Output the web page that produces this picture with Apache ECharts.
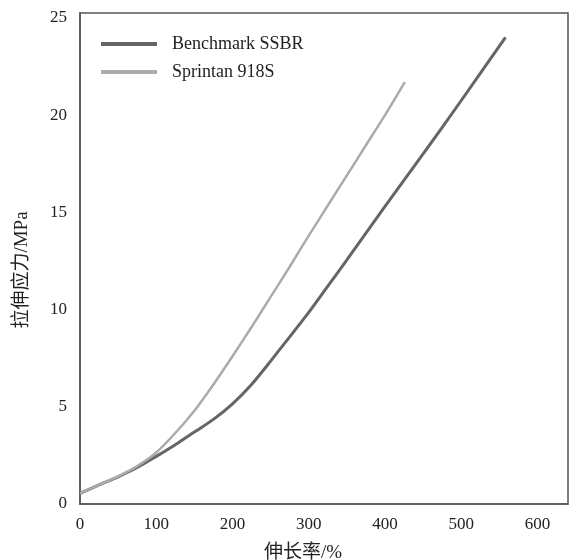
<!DOCTYPE html>
<html>
<head>
<meta charset="utf-8">
<script src="https://cdn.jsdelivr.net/npm/echarts@6/dist/echarts.min.js"></script>
<style>html,body{margin:0;padding:0;background:#fff}#c{width:571px;height:560px}</style>
</head>
<body>
<div id="c"></div>
<script>
const seriesNames = ['Benchmark SSBR', 'Sprintan 918S'];
const benchmarkStrain = [0, 25, 50, 75, 100, 125, 150, 175, 200, 225, 250, 300, 325, 350, 400, 450, 500, 558];
const benchmarkStress = [0.55, 0.98, 1.4, 1.88, 2.45, 3.05, 3.7, 4.35, 5.15, 6.15, 7.35, 9.85, 11.2, 12.55, 15.3, 18.0, 20.75, 24.0];
const sprintanStrain = [0, 25, 50, 75, 100, 125, 150, 175, 200, 225, 250, 275, 300, 325, 350, 375, 400, 426];
const sprintanStress = [0.55, 0.98, 1.42, 1.95, 2.65, 3.65, 4.8, 6.15, 7.6, 9.1, 10.65, 12.2, 13.8, 15.35, 16.9, 18.45, 20.0, 21.7];
const xTicks = [0, 100, 200, 300, 400, 500, 600];
const yTicks = [0, 5, 10, 15, 20, 25];
const xTitle = '伸长率/%';
const yTitle = '拉伸应力/MPa';

const font = '"Liberation Serif", "Noto Sans CJK SC", serif';
const chart = echarts.init(document.getElementById('c'));
const zip = (a, b) => a.map((v, i) => [v, b[i]]);
chart.setOption({
  animation: false,
  grid: { left: 80, right: 3, top: 13, bottom: 56, show: true, borderColor: '#555', borderWidth: 1.5, containLabel: false },
  legend: {
    left: 96, top: 30, orient: 'vertical', icon: 'rect', itemWidth: 56, itemHeight: 4, itemGap: 10,
    textStyle: { fontFamily: font, fontSize: 18, color: '#222', lineHeight: 14, padding: [0, 0, 0, 10] },
    data: seriesNames
  },
  xAxis: {
    type: 'value', min: 0, max: 640, interval: 100,
    axisLine: { show: true, lineStyle: { color: '#555', width: 1.5 } },
    axisTick: { show: false }, splitLine: { show: false },
    axisLabel: { fontFamily: font, fontSize: 17, color: '#222', margin: 12,
      formatter: v => xTicks.includes(v) ? String(v) : '' }
  },
  yAxis: {
    type: 'value', min: 0, max: 25.25, interval: 5,
    axisLine: { show: true, lineStyle: { color: '#555', width: 1.5 } },
    axisTick: { show: false }, splitLine: { show: false },
    axisLabel: { fontFamily: font, fontSize: 17, color: '#222', margin: 13,
      formatter: v => yTicks.includes(v) ? String(v) : '' }
  },
  graphic: [
    { type: 'text', x: 22, y: 270, rotation: Math.PI / 2, style: { text: yTitle, font: '19px ' + font, fill: '#222', textAlign: 'center', textVerticalAlign: 'middle' } },
    { type: 'text', x: 303, y: 553, style: { text: xTitle, font: '19px ' + font, fill: '#222', textAlign: 'center', textVerticalAlign: 'middle' } }
  ],
  series: [
    { name: seriesNames[0], type: 'line', smooth: 0.3, symbol: 'none', data: zip(benchmarkStrain, benchmarkStress),
      lineStyle: { color: '#656565', width: 3 }, itemStyle: { color: '#656565' } },
    { name: seriesNames[1], type: 'line', smooth: 0.3, symbol: 'none', data: zip(sprintanStrain, sprintanStress),
      lineStyle: { color: '#ababab', width: 2.5 }, itemStyle: { color: '#ababab' } }
  ]
});
</script>
</body>
</html>
